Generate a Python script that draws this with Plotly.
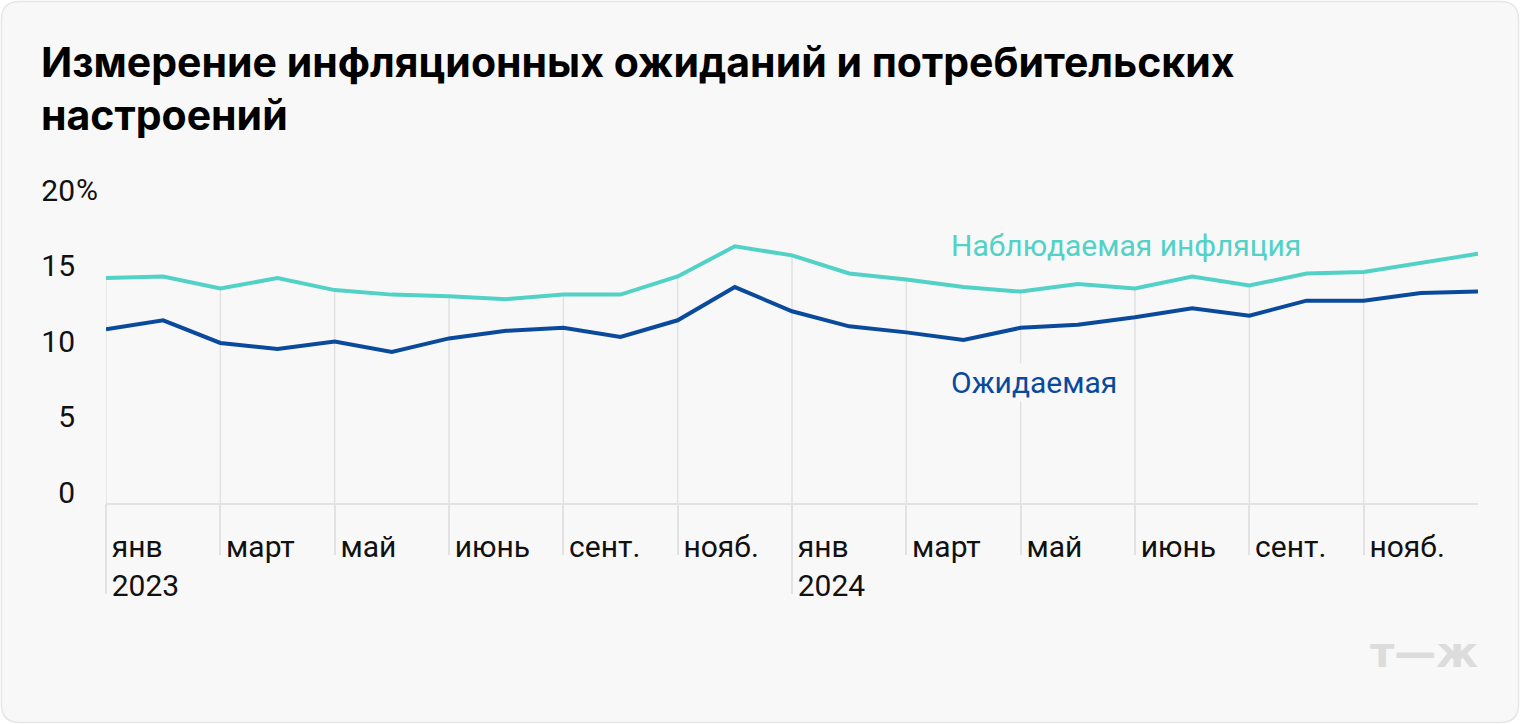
import plotly.graph_objects as go

# ---- data ----
months = ["2023-01", "2023-02", "2023-03", "2023-04", "2023-05", "2023-06", "2023-07",
          "2023-08", "2023-09", "2023-10", "2023-11", "2023-12", "2024-01", "2024-02",
          "2024-03", "2024-04", "2024-05", "2024-06", "2024-07", "2024-08", "2024-09",
          "2024-10", "2024-11", "2024-12", "2025-01"]
observed = [14.9, 15.0, 14.2, 14.9, 14.1, 13.8, 13.7, 13.5, 13.8, 13.8, 15.0, 17.0, 16.4,
            15.2, 14.8, 14.3, 14.0, 14.5, 14.2, 15.0, 14.4, 15.2, 15.3, 15.9, 16.5]
expected = [11.5, 12.1, 10.6, 10.2, 10.7, 10.0, 10.9, 11.4, 11.6, 11.0, 12.1, 14.3, 12.7,
            11.7, 11.3, 10.8, 11.6, 11.8, 12.3, 12.9, 12.4, 13.4, 13.4, 13.9, 14.0]
tick_months = months[0:24:2]
tick_text = ["янв<br>2023", "март", "май", "июнь", "сент.", "нояб.",
             "янв<br>2024", "март", "май", "июнь", "сент.", "нояб."]
year_months = ["2023-01", "2024-01"]
y_ticks = [0, 5, 10, 15, 20]
y_text = ["0", "5", "10", "15", "20"]

TEAL = "#52d1c7"
BLUE = "#0a4a9c"
GRID = "#e2e2e2"
TXT = "#111111"
FONT = "Roboto"
FS = 30

W, H = 1520, 724
L, R, T, B = 106, 1478, 201, 503


def px(x):
    return (x - L) / (R - L)


def py(y):
    return (B - y) / (B - T)


fig = go.Figure()

# vertical grid lines from 0 up to the observed line
gx, gy = [], []
for m in tick_months:
    v = observed[months.index(m)]
    gx += [m, m, None]
    gy += [0, v, None]
fig.add_trace(go.Scatter(x=gx, y=gy, mode="lines", line=dict(color=GRID, width=1.5),
                         hoverinfo="skip", showlegend=False, connectgaps=False))

fig.add_trace(go.Scatter(x=months, y=observed, mode="lines", name="Наблюдаемая инфляция",
                         line=dict(color=TEAL, width=4), showlegend=False))
fig.add_trace(go.Scatter(x=months, y=expected, mode="lines", name="Ожидаемая",
                         line=dict(color=BLUE, width=4), showlegend=False))
# invisible helper trace for the overlay axis carrying the year ticks
fig.add_trace(go.Scatter(x=months, y=observed, mode="markers", xaxis="x2",
                         marker=dict(opacity=0), hoverinfo="skip", showlegend=False))

# card background with rounded corners
x0, y0, x1, y1, r = 1.5, 1.5, 1518.5, 722.5, 18
path = (f"M {px(x0 + r)} {py(y0)} L {px(x1 - r)} {py(y0)} Q {px(x1)} {py(y0)} {px(x1)} {py(y0 + r)} "
        f"L {px(x1)} {py(y1 - r)} Q {px(x1)} {py(y1)} {px(x1 - r)} {py(y1)} "
        f"L {px(x0 + r)} {py(y1)} Q {px(x0)} {py(y1)} {px(x0)} {py(y1 - r)} "
        f"L {px(x0)} {py(y0 + r)} Q {px(x0)} {py(y0)} {px(x0 + r)} {py(y0)} Z")
fig.add_shape(type="path", path=path, xref="paper", yref="paper",
              fillcolor="#f8f8f8", line=dict(color="#e6e6e6", width=1.5), layer="below")

xcommon = dict(type="category", categoryorder="array", categoryarray=months,
               range=[0, 24], automargin=False, tickangle=0, showgrid=False, zeroline=False)

fig.update_layout(
    width=W, height=H,
    margin=dict(l=L, r=W - R, t=T, b=H - B, pad=0, autoexpand=False),
    paper_bgcolor="white", plot_bgcolor="rgba(0,0,0,0)",
    font=dict(family=FONT, size=FS, color=TXT),
    title=dict(text="Измерение инфляционных ожиданий и потребительских<br>настроений",
               x=41 / W, xanchor="left", xref="container",
               y=1 - 77 / H, yanchor="top", yref="container", automargin=False,
               font=dict(family="Inter", size=41, color="#000000", weight=700)),
    xaxis=dict(**xcommon, tickvals=tick_months, ticktext=tick_text,
               ticks="outside", ticklen=50, tickwidth=1.5, tickcolor=GRID,
               ticklabelposition="outside right", ticklabelstandoff=16, ticklabelshift=4,
               showline=True, linecolor=GRID, linewidth=2,
               tickfont=dict(family=FONT, size=FS, color=TXT)),
    xaxis2=dict(**xcommon, overlaying="x", anchor="y", side="bottom",
                tickvals=year_months, ticks="outside", ticklen=90, tickwidth=1.5,
                tickcolor=GRID, showticklabels=False, showline=False),
    yaxis=dict(range=[0, 20], tickvals=y_ticks, ticktext=y_text, showgrid=False,
               zeroline=False, showline=False, ticks="", ticklabelstandoff=30,
               ticklabelshift=-11, automargin=False,
               tickfont=dict(family=FONT, size=FS, color=TXT)),
    hovermode=False,
)

fig.add_annotation(text="%", xref="paper", yref="paper", x=px(74), y=py(190),
                   xanchor="left", yanchor="middle", showarrow=False,
                   font=dict(family=FONT, size=FS, color=TXT))
fig.add_annotation(text="Наблюдаемая инфляция", xref="paper", yref="paper",
                   x=px(949), y=py(245), xanchor="left", yanchor="middle", showarrow=False,
                   font=dict(family=FONT, size=FS, color=TEAL))
fig.add_annotation(text="Ожидаемая", xref="paper", yref="paper",
                   x=px(949), y=py(382), xanchor="left", yanchor="middle", showarrow=False,
                   bgcolor="#f8f8f8", font=dict(family=FONT, size=FS, color=BLUE))
fig.add_annotation(text="<b>т—ж</b>", xref="paper", yref="paper",
                   x=px(1480), y=py(652), xanchor="right", yanchor="middle", showarrow=False,
                   font=dict(family="DejaVu Sans", size=42, color="#dcdcdc"))

fig.write_html("out.html", config={"displayModeBar": False},
               post_script="document.body.style.margin='0px';")
